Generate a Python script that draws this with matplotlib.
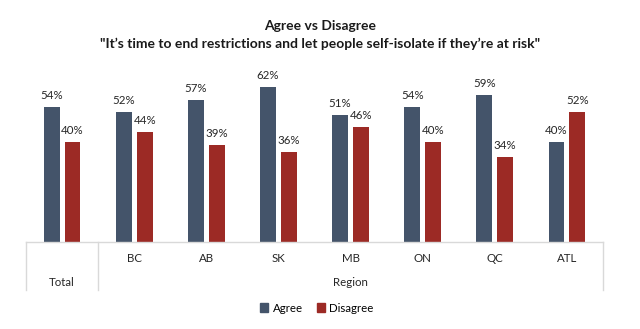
import matplotlib.pyplot as plt
from matplotlib.transforms import blended_transform_factory
from matplotlib.patches import Patch

categories = ['Total', 'BC', 'AB', 'SK', 'MB', 'ON', 'QC', 'ATL']
agree = [54, 52, 57, 62, 51, 54, 59, 40]
disagree = [40, 44, 39, 36, 46, 40, 34, 52]

agree_color = '#44546A'
disagree_color = '#9C2A25'
line_color = '#D9D9D9'

plt.rcParams['font.family'] = ['Lato', 'DejaVu Sans']

W, H = 640, 329
fig = plt.figure(figsize=(W / 100, H / 100), dpi=100)
left, right, base, top = 26, 603, 242, 67
ax = fig.add_axes([left / W, 1 - base / H, (right - left) / W, (base - top) / H])

x = list(range(len(categories)))
bw = 0.22
off = 0.145
b1 = ax.bar([i - off for i in x], agree, bw, color=agree_color, label='Agree')
b2 = ax.bar([i + off for i in x], disagree, bw, color=disagree_color, label='Disagree')

for bars, vals in ((b1, agree), (b2, disagree)):
    for r, v in zip(bars, vals):
        ax.annotate(f'{v}%', (r.get_x() + r.get_width() / 2, v), xytext=(0, 4),
                    textcoords='offset points', ha='center', va='bottom',
                    fontsize=8.3, color='#262626')

ax.set_xlim(-0.5, len(categories) - 0.5)
ax.set_ylim(0, 70)
for s in ax.spines.values():
    s.set_visible(False)
ax.set_yticks([])
ax.set_xticks([])

# table-like category axis
tr = blended_transform_factory(ax.transData, ax.transAxes)
h = base - top
low = -(290 - base) / h
ax.plot([-0.5, 7.5], [0, 0], transform=tr, color=line_color, lw=1, clip_on=False)
for xv in (-0.5, 0.5, 7.5):
    ax.plot([xv, xv], [0, low], transform=tr, color=line_color, lw=1, clip_on=False)

y_cat = -(258 - base) / h
y_grp = -(282 - base) / h
for i, c in enumerate(categories):
    yy = y_grp if c == 'Total' else y_cat
    ax.text(i, yy, c, transform=tr, ha='center', va='center', fontsize=8.3, color='#262626')
ax.text(4, y_grp, 'Region', transform=tr, ha='center', va='center', fontsize=8.3, color='#262626')

fig.text(0.5, 1 - 26 / H, 'Agree vs Disagree', ha='center', va='center',
         fontsize=10, fontweight='bold', color='#1a1a1a')
fig.text(0.5, 1 - 44 / H,
         '"It\u2019s time to end restrictions and let people self-isolate if they\u2019re at risk"',
         ha='center', va='center', fontsize=10, fontweight='bold', color='#1a1a1a')

handles = [Patch(color=agree_color, label='Agree'), Patch(color=disagree_color, label='Disagree')]
fig.legend(handles=handles, loc='center', bbox_to_anchor=(317 / W, 1 - 308 / H), ncol=2,
           frameon=False, fontsize=8.3, handlelength=0.7, handleheight=0.7,
           handletextpad=0.4, columnspacing=1.2)

fig.savefig('out.png', dpi=100)
